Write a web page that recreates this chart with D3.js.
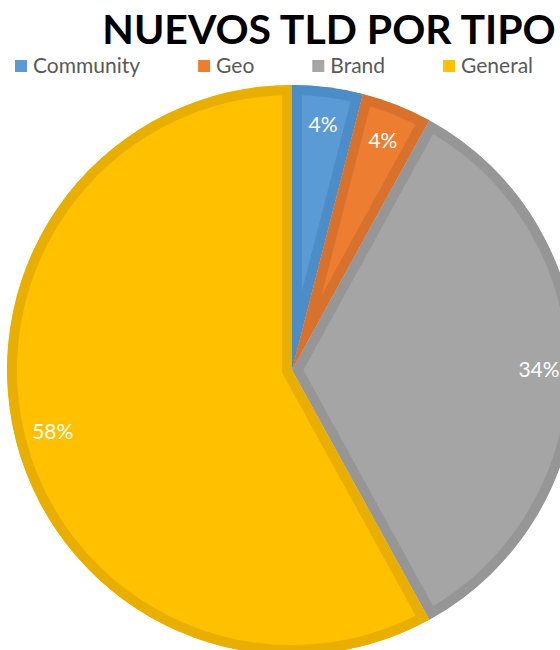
<!DOCTYPE html>
<html>
<head>
<meta charset="utf-8">
<script src="https://cdn.jsdelivr.net/npm/d3@7"></script>
<style>
  html, body { margin: 0; padding: 0; background: #fff; }
  svg { display: block; }
</style>
</head>
<body>
<svg id="chart" width="560" height="650"></svg>
<script>
// Chart data
const categories = ["Community", "Geo", "Brand", "General"];
const shares = [4, 4, 34, 58];
const fillColors = ["#5B9BD5", "#ED7D31", "#A5A5A5", "#FFC000"];
const edgeColors = ["#4C8CC7", "#D7712C", "#969696", "#E8AE00"];
const titleText = "NUEVOS TLD POR TIPO";

const svg = d3.select("#chart");
const cx = 292, cy = 370, R = 285;
const font = "Lato, 'Open Sans', sans-serif";

// Title
svg.append("text")
  .attr("x", 329).attr("y", 44)
  .attr("text-anchor", "middle")
  .attr("font-family", font)
  .attr("font-weight", 700)
  .attr("font-size", 41)
  .attr("fill", "#000")
  .text(titleText);

// Legend: entries flow left to right, each placed after the previous label
const legend = svg.append("g").attr("class", "legend");
const swatch = 12, swatchGap = 6, entryGap = 58;
let lx = 15;
categories.forEach((name, i) => {
  const item = legend.append("g").attr("transform", `translate(${lx},60)`);
  item.append("rect")
    .attr("width", swatch).attr("height", swatch)
    .attr("fill", fillColors[i]);
  const t = item.append("text")
    .attr("x", swatch + swatchGap).attr("y", 13)
    .attr("font-family", font)
    .attr("font-size", 21)
    .attr("fill", "#595959")
    .text(name);
  lx += swatch + swatchGap + t.node().getComputedTextLength() + entryGap;
});

// Pie
const pie = d3.pie().sort(null).value(d => d)(shares);
const arc = d3.arc().innerRadius(0).outerRadius(R);
const labelArc = d3.arc().innerRadius(247).outerRadius(247);

const g = svg.append("g").attr("transform", `translate(${cx},${cy})`);
const defs = svg.append("defs");
pie.forEach((p, i) => {
  defs.append("clipPath").attr("id", "clip" + i)
    .append("path").attr("d", arc(p));
});

// Each slice carries an inner border in a darker shade of its fill
g.selectAll("path.slice").data(pie).join("path")
  .attr("class", "slice")
  .attr("d", arc)
  .attr("fill", (d, i) => fillColors[i])
  .attr("stroke", (d, i) => edgeColors[i])
  .attr("stroke-width", 20)
  .attr("stroke-linejoin", "miter")
  .attr("clip-path", (d, i) => `url(#clip${i})`);

// Percentage labels
g.selectAll("text.lbl").data(pie).join("text")
  .attr("class", "lbl")
  .attr("transform", d => `translate(${labelArc.centroid(d)})`)
  .attr("text-anchor", "middle")
  .attr("dy", "0.35em")
  .attr("font-family", font)
  .attr("font-size", 21)
  .attr("fill", "#fff")
  .text(d => d.data + "%");
</script>
</body>
</html>
